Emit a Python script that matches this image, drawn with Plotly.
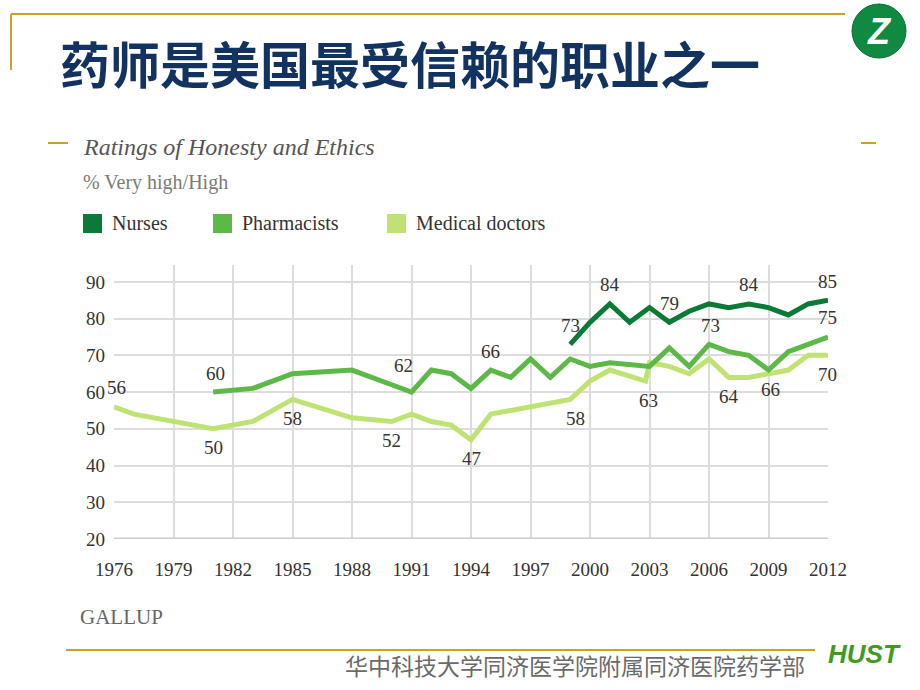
import plotly.graph_objects as go

# ---------------- data ----------------
nurse_years = [1999, 2000, 2001, 2002, 2003, 2004, 2005, 2006, 2007, 2008, 2009, 2010, 2011, 2012]
nurse_vals = [73, 79, 84, 79, 83, 79, 82, 84, 83, 84, 83, 81, 84, 85]

pharm_years = [1981, 1983, 1985, 1988, 1990, 1991, 1992, 1993, 1994, 1995, 1996, 1997, 1998, 1999,
               2000, 2001, 2003, 2004, 2005, 2006, 2007, 2008, 2009, 2010, 2011, 2012]
pharm_vals = [60, 61, 65, 66, 62, 60, 66, 65, 61, 66, 64, 69, 64, 69,
              67, 68, 67, 72, 67, 73, 71, 70, 66, 71, 73, 75]

doc_years = [1976, 1977, 1981, 1983, 1985, 1988, 1990, 1991, 1992, 1993, 1994, 1995, 1996, 1997,
             1998, 1999, 2000, 2001, 2002.8, 2003, 2004, 2005, 2006, 2007, 2008, 2009, 2010, 2011, 2012]
doc_vals = [56, 54, 50, 52, 58, 53, 52, 54, 52, 51, 47, 54, 55, 56,
            57, 58, 63, 66, 63, 68, 67, 65, 69, 64, 64, 65, 66, 70, 70]

series_names = ["Nurses", "Pharmacists", "Medical doctors"]
series_colors = ["#0b7a36", "#5cb948", "#bfe372"]

x_ticks = [1976, 1979, 1982, 1985, 1988, 1991, 1994, 1997, 2000, 2003, 2006, 2009, 2012]
y_ticks = [20, 30, 40, 50, 60, 70, 80, 90]

# value labels: (series index, year, value)
label_series = [2, 1, 2, 2, 2, 1, 2, 1, 0, 2, 0, 0, 2, 1, 0, 2, 1, 0, 1, 2]
label_years = [1976, 1981, 1981, 1985, 1990, 1990, 1994, 1995, 1999, 1999, 2001, 2004, 2002.8, 2006,
               2008, 2007, 2009, 2012, 2012, 2012]
label_vals = [56, 60, 50, 58, 52, 62, 47, 66, 73, 58, 84, 79, 63, 73, 84, 64, 66, 85, 75, 70]

# ---------------- layout geometry ----------------
W, H = 920, 690
L, R, T, B = 114, 828, 265, 539


def px(x):
    return (x - L) / (R - L)


def py(y):
    return (B - y) / (B - T)


SERIF = "Liberation Serif, DejaVu Serif, serif"
GOLD = "#c9a227"

fig = go.Figure()
traces = [(nurse_years, nurse_vals), (pharm_years, pharm_vals), (doc_years, doc_vals)]
for (xs, ys), name, col in zip(traces[::-1], series_names[::-1], series_colors[::-1]):
    fig.add_trace(go.Scatter(x=xs, y=ys, mode="lines", name=name,
                             line=dict(color=col, width=5), cliponaxis=False,
                             showlegend=False, hoverinfo="x+y+name"))

annotations = []
shapes = []

# value labels
above = [True, True, False, False, False, True, False, True, True, False, True, True, False, True,
         True, False, False, True, True, False]
xshift = [2, 2, 0, 0, 0, 12, 0, 0, 0, 5, 0, 0, 3, 1, 0, 0, 2, -1, -1, -1]
for s, yr, v, a, xs in zip(label_series, label_years, label_vals, above, xshift):
    annotations.append(dict(x=yr, y=v, xref="x", yref="y", text=str(v), showarrow=False,
                            yshift=19 if a else -19, xshift=xs,
                            font=dict(family=SERIF, size=19, color="#333333")))

# chart header texts
annotations += [
    dict(x=px(81), y=py(147), xref="paper", yref="paper", xanchor="left", yanchor="middle",
         text="<i>Ratings of Honesty and Ethics</i>", showarrow=False,
         font=dict(family=SERIF, size=24, color="#555555")),
    dict(x=px(81), y=py(182), xref="paper", yref="paper", xanchor="left", yanchor="middle",
         text="% Very high/High", showarrow=False,
         font=dict(family=SERIF, size=20, color="#7a7a7a")),
    dict(x=px(78), y=py(617), xref="paper", yref="paper", xanchor="left", yanchor="middle",
         text="GALLUP", showarrow=False,
         font=dict(family=SERIF, size=21, color="#666666")),
    dict(x=px(58), y=py(62), xref="paper", yref="paper", xanchor="left", yanchor="middle",
         text="<b>药师是美国最受信赖的职业之一</b>", showarrow=False,
         font=dict(family="Noto Sans CJK SC", size=50, color="#12335f")),
    dict(x=px(807), y=py(665), xref="paper", yref="paper", xanchor="right", yanchor="middle",
         text="华中科技大学同济医学院附属同济医院药学部", showarrow=False,
         font=dict(family="Noto Sans CJK SC", size=23, color="#6a6a6a")),
    dict(x=px(879), y=py(31), xref="paper", yref="paper", xanchor="center", yanchor="middle",
         text="<b><i>Z</i></b>", showarrow=False,
         font=dict(family="Liberation Sans", size=36, color="white")),
    dict(x=px(864), y=py(654), xref="paper", yref="paper", xanchor="center", yanchor="middle",
         text="<b><i>HUST</i></b>", showarrow=False,
         font=dict(family="Liberation Sans", size=26, color="#3f9a1e")),
]

# legend
leg_x = [83, 213, 387]
for lx, name, col in zip(leg_x, series_names, series_colors):
    shapes.append(dict(type="rect", xref="paper", yref="paper", x0=px(lx), x1=px(lx + 19),
                       y0=py(233), y1=py(214), fillcolor=col, line=dict(width=0)))
    annotations.append(dict(x=px(lx + 27), y=py(223), xref="paper", yref="paper",
                            xanchor="left", yanchor="middle", text=name, showarrow=False,
                            font=dict(family=SERIF, size=20, color="#333333")))

# baseline
shapes.append(dict(type="line", xref="paper", yref="y", x0=0, x1=1, y0=20, y1=20,
                   line=dict(color="#cccccc", width=3)))

# slide decoration
shapes += [
    dict(type="line", xref="paper", yref="paper", x0=px(11), x1=px(845), y0=py(14), y1=py(14),
         line=dict(color=GOLD, width=2)),
    dict(type="line", xref="paper", yref="paper", x0=px(11), x1=px(11), y0=py(14), y1=py(70),
         line=dict(color=GOLD, width=2)),
    dict(type="line", xref="paper", yref="paper", x0=px(48), x1=px(68), y0=py(143), y1=py(143),
         line=dict(color=GOLD, width=2)),
    dict(type="line", xref="paper", yref="paper", x0=px(861), x1=px(876), y0=py(143), y1=py(143),
         line=dict(color=GOLD, width=2)),
    dict(type="line", xref="paper", yref="paper", x0=px(66), x1=px(815), y0=py(650), y1=py(650),
         line=dict(color=GOLD, width=2)),
    dict(type="circle", xref="paper", yref="paper", x0=px(852), x1=px(906), y0=py(58), y1=py(4),
         fillcolor="#0f8a40", line=dict(color="#0b6e32", width=1)),
]

fig.update_layout(
    width=W, height=H, autosize=False,
    margin=dict(l=L, r=W - R, t=T, b=H - B, pad=0),
    paper_bgcolor="white", plot_bgcolor="white",
    showlegend=False,
    annotations=annotations, shapes=shapes,
    xaxis=dict(range=[1976, 2012], tickmode="array", tickvals=x_ticks,
               ticktext=[str(t) for t in x_ticks],
               showgrid=True, gridcolor="#dcdcdc", gridwidth=2,
               zeroline=False, showline=False, ticks="", ticklabelstandoff=17,
               tickfont=dict(family=SERIF, size=19, color="#333333")),
    yaxis=dict(range=[20, 94.6], tickmode="array", tickvals=y_ticks,
               ticktext=[str(t) for t in y_ticks],
               showgrid=True, gridcolor="#dcdcdc", gridwidth=2,
               zeroline=False, showline=False, ticks="", ticklabelstandoff=8,
               tickfont=dict(family=SERIF, size=19, color="#333333")),
)

fig.write_html("out.html", config={"displayModeBar": False},
               post_script="document.body.style.margin='0';")
